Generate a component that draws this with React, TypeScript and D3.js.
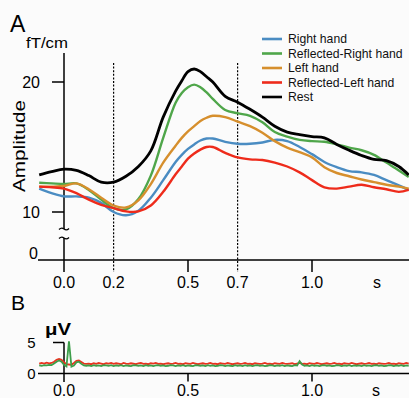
import React from "react";
import * as d3 from "d3";

// ---------- Panel A data ----------
const timesA = [-0.10,-0.05,0.00,0.05,0.10,0.15,0.20,0.25,0.30,0.35,0.40,0.45,0.475,0.50,0.525,0.55,0.575,0.60,0.65,0.70,0.75,0.80,0.85,0.90,0.95,1.00,1.05,1.10,1.15,1.20,1.25,1.30,1.35,1.39];
const rightHand = [11.8,11.45,11.2,11.2,11.1,10.7,10.0,9.75,10.1,11.1,12.45,13.85,14.4,14.85,15.2,15.5,15.65,15.65,15.4,15.25,15.25,15.35,15.55,15.45,15.0,14.45,13.85,13.45,13.15,13.05,12.85,12.45,12.05,11.7];
const reflectedRight = [12.25,12.2,12.15,12.2,11.7,10.95,10.3,10.2,11.0,12.8,15.7,18.4,19.15,19.6,19.8,19.6,19.2,18.7,17.85,17.6,17.4,16.9,16.15,15.8,15.55,15.45,15.4,15.2,14.95,14.75,14.4,13.8,13.2,12.7];
const leftHand = [11.95,11.95,12.0,12.2,11.75,11.1,10.5,10.35,10.9,12.15,13.8,15.1,15.7,16.2,16.6,17.0,17.25,17.4,17.3,16.95,16.6,16.1,15.45,14.95,14.6,14.2,13.45,13.0,12.75,12.5,12.3,12.1,11.95,11.8];
const reflectedLeft = [11.95,11.9,11.8,11.45,10.95,10.55,10.3,10.05,10.05,10.5,11.55,12.9,13.5,14.1,14.5,14.8,15.0,15.0,14.55,14.2,14.05,14.0,13.8,13.5,13.05,12.45,11.9,11.8,11.95,12.1,11.9,11.75,11.55,11.7];
const rest = [12.85,13.1,13.3,13.2,12.8,12.3,12.3,12.75,13.5,14.7,17.3,19.3,20.1,20.8,21.0,20.8,20.4,20.0,18.9,18.45,17.9,17.3,16.6,16.15,15.95,15.8,15.7,15.2,14.75,14.35,14.05,13.95,13.5,12.85];

const seriesNames = ["Right hand","Reflected-Right hand","Left hand","Reflected-Left hand","Rest"];
const seriesValues = [rightHand, reflectedRight, leftHand, reflectedLeft, rest];

const xTickValuesA = [0, 0.2, 0.5, 0.7, 1.0];
const xTickLabelsA = ["0.0","0.2","0.5","0.7","1.0"];
const yTickValuesA = [10, 20];
const markerTimes = [0.2, 0.7];

// ---------- Panel B data (sampled every 0.01 s from -0.10 s) ----------
const bStart = -0.10;
const bStep = 0.01;
const eogRed = [
1.6,1.7,1.6,1.75,1.65,1.7,1.9,2.2,2.35,2.2,
1.8,1.5,1.45,1.4,1.7,2.05,2.1,1.85,1.6,1.55,
1.6,1.5,1.65,1.55,1.7,1.6,1.5,1.65,1.6,1.7,
1.55,1.65,1.6,1.5,1.7,1.6,1.55,1.65,1.6,1.5,
1.65,1.7,1.55,1.6,1.5,1.65,1.6,1.7,1.55,1.6,
1.5,1.6,1.65,1.55,1.6,1.7,1.55,1.6,1.5,1.65,
1.6,1.55,1.7,1.6,1.5,1.6,1.65,1.55,1.6,1.7,
1.55,1.6,1.5,1.65,1.6,1.55,1.7,1.6,1.5,1.6,
1.65,1.55,1.6,1.7,1.55,1.6,1.5,1.65,1.6,1.55,
1.6,1.7,1.55,1.6,1.5,1.65,1.6,1.55,1.7,1.6,
1.55,1.6,1.65,1.5,1.6,1.7,1.55,1.6,1.5,1.65,
1.6,1.55,1.7,1.6,1.5,1.6,1.65,1.55,1.6,1.7,
1.55,1.6,1.5,1.65,1.6,1.55,1.7,1.6,1.5,1.6,
1.65,1.55,1.6,1.7,1.55,1.6,1.5,1.65,1.6,1.55,
1.6,1.7,1.55,1.6,1.5,1.65,1.6,1.55,1.7,1.6];
const eogGreen = [
1.3,1.25,1.35,1.3,1.4,1.35,1.6,1.9,2.1,1.9,
1.4,1.15,5.2,1.1,1.3,1.8,1.9,1.55,1.3,1.25,
1.3,1.2,1.35,1.25,1.3,1.2,1.35,1.3,1.25,1.35,
1.2,1.3,1.25,1.35,1.2,1.3,1.25,1.2,1.35,1.3,
1.25,1.3,1.2,1.35,1.25,1.3,1.2,1.3,1.35,1.25,
1.3,1.2,1.25,1.35,1.3,1.2,1.3,1.25,1.35,1.2,
1.3,1.25,1.2,1.35,1.3,1.25,1.3,1.2,1.35,1.25,
1.3,1.2,1.25,1.35,1.3,1.2,1.3,1.25,1.2,1.35,
1.25,1.3,1.2,1.35,1.25,1.3,1.2,1.3,1.35,1.25,
1.3,1.2,1.25,1.35,1.3,1.2,1.3,1.25,1.35,1.2,
1.3,1.25,1.2,1.35,1.3,2.0,1.45,1.25,1.3,1.2,
1.35,1.25,1.3,1.2,1.3,1.35,1.25,1.3,1.2,1.25,
1.35,1.3,1.2,1.3,1.25,1.35,1.2,1.3,1.25,1.3,
1.2,1.35,1.25,1.3,1.2,1.3,1.35,1.25,1.3,1.2,
1.25,1.35,1.3,1.2,1.3,1.25,1.35,1.2,1.3,1.25];
const xTickValuesB = [0, 0.5, 1.0];
const xTickLabelsB = ["0.0","0.5","1.0"];

// ---------- styles ----------
const COLORS = ["#4a8cc2", "#4fa64a", "#d68f2d", "#ee2b1b", "#000000"];
const WIDTHS = [2.4, 2.4, 2.4, 2.4, 2.8];
const FONT = "'Liberation Sans', Arial, Helvetica, sans-serif";

export default function App() {
  const x = d3.scaleLinear().domain([0, 1]).range([64, 312]);
  const yA = d3.scaleLinear().domain([10, 20]).range([212, 82]);
  const yB = d3.scaleLinear().domain([0, 5]).range([373.5, 342.5]);

  const lineA = d3
    .line<number>()
    .x((_, i) => x(timesA[i]))
    .y((d) => yA(d))
    .curve(d3.curveCatmullRom.alpha(0.5));

  const lineB = d3
    .line<number>()
    .x((_, i) => x(bStart + i * bStep))
    .y((d) => yB(d));

  const axisColor = "#000";
  const xLeft = 38;
  const xRight = 409;
  const axisYA = 260;
  const axisYB = 373.5;

  return (
    <svg
      width={409}
      height={398}
      style={{ position: "absolute", left: 0, top: 0, background: "#fbfbfb" }}
      fontFamily={FONT}
    >
      <rect x={0} y={0} width={409} height={398} fill="#fbfbfb" />

      {/* ===== Panel A ===== */}
      <text x={10} y={32} fontSize={23}>A</text>
      <text x={26} y={48} fontSize={15} textLength={42} lengthAdjust="spacingAndGlyphs">fT/cm</text>
      <text
        transform="translate(25,146) rotate(-90)"
        textAnchor="middle"
        fontSize={16}
        textLength={92}
        lengthAdjust="spacingAndGlyphs"
      >
        Amplitude
      </text>

      {/* marker dotted lines */}
      {markerTimes.map((t) => (
        <line
          key={t}
          x1={x(t)}
          x2={x(t)}
          y1={63}
          y2={272}
          stroke="#000"
          strokeWidth={1.2}
          strokeDasharray="2,1.6"
        />
      ))}

      {/* y axis with break */}
      <line x1={64} x2={64} y1={53} y2={229} stroke={axisColor} strokeWidth={1.5} />
      <line x1={64} x2={64} y1={238} y2={272} stroke={axisColor} strokeWidth={1.5} />
      <path d="M59,229.5 q2.5,-2.5 5,-0.5 t5,-0.5" fill="none" stroke={axisColor} strokeWidth={1.3} />
      <path d="M59,238.5 q2.5,-2.5 5,-0.5 t5,-0.5" fill="none" stroke={axisColor} strokeWidth={1.3} />
      {yTickValuesA.map((v) => (
        <g key={v}>
          <line x1={52} x2={64} y1={yA(v)} y2={yA(v)} stroke={axisColor} strokeWidth={1.5} />
          <text x={40} y={yA(v) + 5.7} textAnchor="end" fontSize={16}>{v}</text>
        </g>
      ))}
      <text x={38} y={258.5} textAnchor="end" fontSize={16}>0</text>

      {/* x axis */}
      <line x1={xLeft} x2={xRight} y1={axisYA} y2={axisYA} stroke={axisColor} strokeWidth={1.5} />
      {[0.5, 1.0].map((t) => (
        <line key={t} x1={x(t)} x2={x(t)} y1={axisYA} y2={272} stroke={axisColor} strokeWidth={1.5} />
      ))}
      {xTickValuesA.map((t, i) => (
        <text key={t} x={x(t)} y={287.5} textAnchor="middle" fontSize={16}>{xTickLabelsA[i]}</text>
      ))}
      <text x={377} y={287.5} textAnchor="middle" fontSize={16}>s</text>

      {/* curves */}
      {seriesValues.map((vals, i) => (
        <path
          key={seriesNames[i]}
          d={lineA(vals) || ""}
          fill="none"
          stroke={COLORS[i]}
          strokeWidth={WIDTHS[i]}
          strokeLinejoin="round"
        />
      ))}

      {/* legend */}
      {seriesNames.map((name, i) => {
        const cy = 39 + i * 14.5;
        return (
          <g key={name}>
            <line x1={262} x2={282} y1={cy} y2={cy} stroke={COLORS[i]} strokeWidth={2.6} />
            <text x={288} y={cy + 4.2} fontSize={12.2} fill="#111">{name}</text>
          </g>
        );
      })}

      {/* ===== Panel B ===== */}
      <text x={11} y={310} fontSize={21}>B</text>
      <text x={45} y={335} fontSize={16} fontWeight="bold" textLength={26} lengthAdjust="spacingAndGlyphs">μV</text>

      <line x1={64} x2={64} y1={yB(5)} y2={382} stroke={axisColor} strokeWidth={1.5} />
      <line x1={53} x2={64} y1={yB(5)} y2={yB(5)} stroke={axisColor} strokeWidth={1.5} />
      <text x={35.5} y={yB(5) + 5.3} textAnchor="end" fontSize={15}>5</text>
      <text x={35.5} y={378.5} textAnchor="end" fontSize={15}>0</text>

      <line x1={xLeft} x2={xRight} y1={axisYB} y2={axisYB} stroke={axisColor} strokeWidth={1.5} />
      {[0.5, 1.0].map((t) => (
        <line key={t} x1={x(t)} x2={x(t)} y1={axisYB} y2={381.5} stroke={axisColor} strokeWidth={1.5} />
      ))}
      {xTickValuesB.map((t, i) => (
        <text key={t} x={x(t)} y={395.5} textAnchor="middle" fontSize={16}>{xTickLabelsB[i]}</text>
      ))}
      <text x={376} y={395.5} textAnchor="middle" fontSize={16}>s</text>

      <path d={lineB(eogRed) || ""} fill="none" stroke="#e8331f" strokeWidth={1.8} />
      <path d={lineB(eogGreen) || ""} fill="none" stroke="#3d9e4a" strokeWidth={1.8} />
    </svg>
  );
}
